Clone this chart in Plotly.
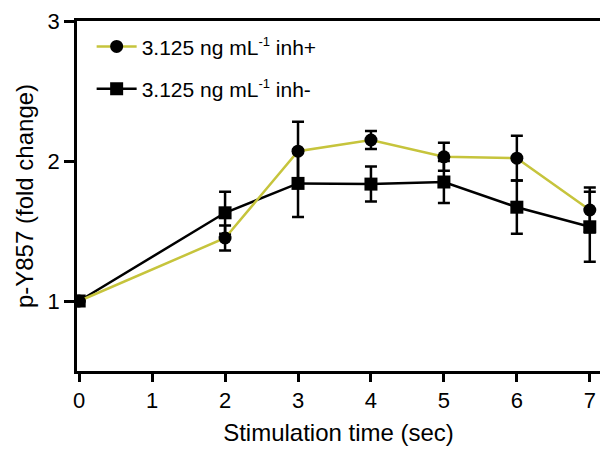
import plotly.graph_objects as go

time_sec = [0, 2, 3, 4, 5, 6, 7]
inh_plus = [1.0, 1.45, 2.07, 2.15, 2.03, 2.02, 1.65]
inh_plus_err = [0, 0.09, 0.21, 0.065, 0.10, 0.16, 0.16]
inh_minus = [1.0, 1.63, 1.84, 1.835, 1.85, 1.67, 1.53]
inh_minus_err = [0, 0.15, 0.24, 0.125, 0.15, 0.19, 0.25]
x_ticks = [0, 1, 2, 3, 4, 5, 6, 7]
y_ticks = [1, 2, 3]

FONT = "Liberation Sans, Arial, sans-serif"
OLIVE = "#c6c43c"
SUP = "<sup><span style='font-size:13px'>-1</span></sup>"
name_plus = "3.125 ng mL" + SUP + " inh+"
name_minus = "3.125 ng mL" + SUP + " inh-"

fig = go.Figure()
fig.add_trace(go.Scatter(
    x=time_sec, y=inh_minus, mode="lines+markers",
    name=name_minus,
    line=dict(color="black", width=2.5),
    marker=dict(symbol="square", size=13, color="black"),
    error_y=dict(type="data", array=inh_minus_err, color="black", thickness=2.5, width=6),
    showlegend=False,
))
fig.add_trace(go.Scatter(
    x=time_sec, y=inh_plus, mode="lines+markers",
    name=name_plus,
    line=dict(color=OLIVE, width=2.5),
    marker=dict(symbol="circle", size=13, color="black"),
    error_y=dict(type="data", array=inh_plus_err, color="black", thickness=2.5, width=6),
    showlegend=False,
))
# legend entries (ordered as in reference)
fig.add_trace(go.Scatter(
    x=[None], y=[None], mode="lines+markers",
    name=name_plus, legendgroup="a",
    line=dict(color=OLIVE, width=2.5),
    marker=dict(symbol="circle", size=13, color="black"),
))
fig.add_trace(go.Scatter(
    x=[None], y=[None], mode="lines+markers",
    name=name_minus, legendgroup="b",
    line=dict(color="black", width=2.5),
    marker=dict(symbol="square", size=13, color="black"),
))

fig.update_layout(
    width=600, height=455,
    margin=dict(l=77, r=0, t=21, b=84),
    plot_bgcolor="white", paper_bgcolor="white",
    font=dict(family=FONT, size=18, color="black"),
    legend=dict(x=0.028, y=0.985, xanchor="left", yanchor="top",
                font=dict(size=21, family=FONT), tracegroupgap=12,
                itemwidth=40, bgcolor="rgba(0,0,0,0)"),
    xaxis=dict(
        range=[-0.03, 7.14], tickvals=x_ticks, ticktext=[str(v) for v in x_ticks],
        showgrid=False, zeroline=False, showline=True, linecolor="black", linewidth=2.5,
        mirror=True, ticks="outside", ticklen=8, tickwidth=2.5, tickcolor="black",
        tickfont=dict(size=22),
        title=dict(text="Stimulation time (sec)", font=dict(size=24), standoff=13),
    ),
    yaxis=dict(
        range=[0.5, 3.0], tickvals=y_ticks, ticktext=[str(v) for v in y_ticks],
        showgrid=False, zeroline=False, showline=True, linecolor="black", linewidth=2.5,
        ticks="outside", ticklen=10, tickwidth=2.5, tickcolor="black",
        tickfont=dict(size=22),
        title=dict(text="p-Y857 (fold change)", font=dict(size=24), standoff=8),
    ),
)

fig.write_html("out.html")
